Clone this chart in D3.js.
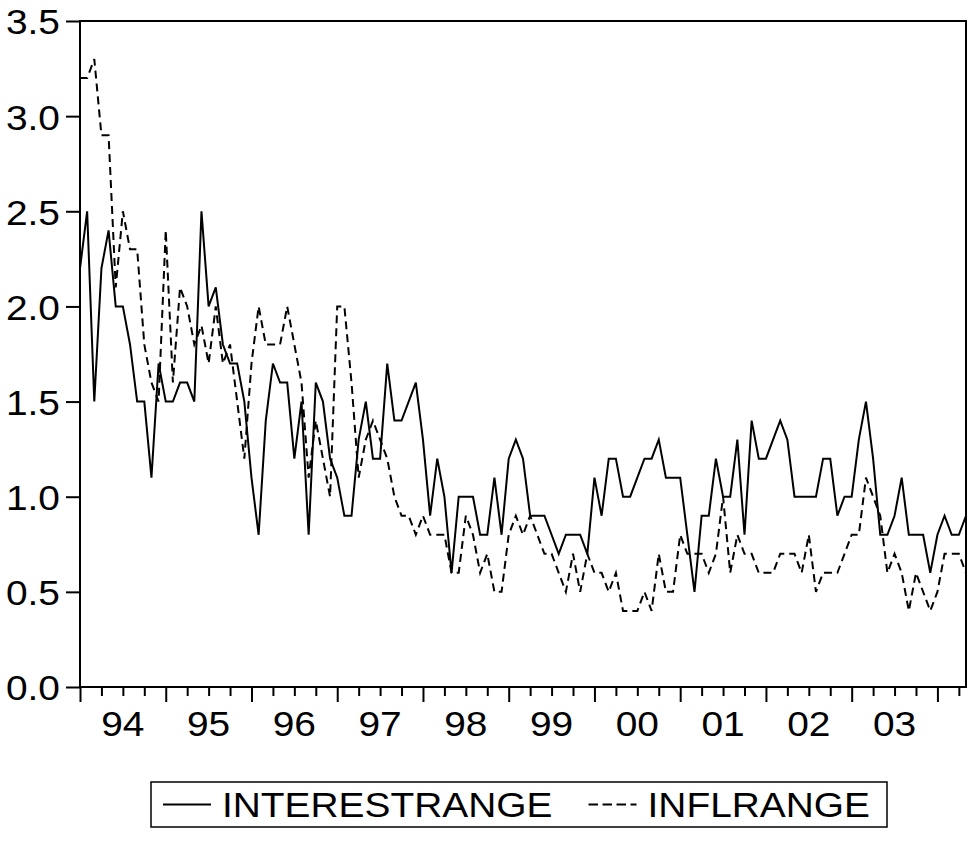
<!DOCTYPE html>
<html>
<head>
<meta charset="utf-8" />
<script src="https://cdn.jsdelivr.net/npm/d3@7/dist/d3.min.js"></script>
<style>
body { margin: 0; background: #fff; }
svg { display: block; }
text { font-family: "Liberation Sans", Arial, sans-serif; fill: #000; }
.axis path, .axis line { stroke: #000; stroke-width: 2px; }
.line { fill: none; stroke: #000; stroke-width: 2px; stroke-linejoin: miter; }
</style>
</head>
<body>
<svg id="chart" width="968" height="844"></svg>
<script>

// monthly observations, 1994M01 .. 2004M05
var yearLabels = ["94", "95", "96", "97", "98", "99", "00", "01", "02", "03"];
var yTicks = [0.0, 0.5, 1.0, 1.5, 2.0, 2.5, 3.0, 3.5];

var interestRange = [
  2.2, 2.5, 1.5, 2.2, 2.4, 2.0, 2.0, 1.8, 1.5, 1.5, 1.1, 1.7,
  1.5, 1.5, 1.6, 1.6, 1.5, 2.5, 2.0, 2.1, 1.8, 1.7, 1.7, 1.5,
  1.1, 0.8, 1.4, 1.7, 1.6, 1.6, 1.2, 1.5, 0.8, 1.6, 1.5, 1.2,
  1.1, 0.9, 0.9, 1.3, 1.5, 1.2, 1.2, 1.7, 1.4, 1.4, 1.5, 1.6,
  1.3, 0.9, 1.2, 1.0, 0.6, 1.0, 1.0, 1.0, 0.8, 0.8, 1.1, 0.8,
  1.2, 1.3, 1.2, 0.9, 0.9, 0.9, 0.8, 0.7, 0.8, 0.8, 0.8, 0.7,
  1.1, 0.9, 1.2, 1.2, 1.0, 1.0, 1.1, 1.2, 1.2, 1.3, 1.1, 1.1,
  1.1, 0.8, 0.5, 0.9, 0.9, 1.2, 1.0, 1.0, 1.3, 0.8, 1.4, 1.2,
  1.2, 1.3, 1.4, 1.3, 1.0, 1.0, 1.0, 1.0, 1.2, 1.2, 0.9, 1.0,
  1.0, 1.3, 1.5, 1.2, 0.8, 0.8, 0.9, 1.1, 0.8, 0.8, 0.8, 0.6,
  0.8, 0.9, 0.8, 0.8, 0.9
];

var inflRange = [
  3.2, 3.2, 3.3, 2.9, 2.9, 2.1, 2.5, 2.3, 2.3, 1.8, 1.6, 1.5,
  2.4, 1.6, 2.1, 2.0, 1.8, 1.9, 1.7, 2.0, 1.7, 1.8, 1.5, 1.2,
  1.7, 2.0, 1.8, 1.8, 1.8, 2.0, 1.8, 1.6, 1.1, 1.4, 1.2, 1.0,
  2.0, 2.0, 1.6, 1.1, 1.3, 1.4, 1.3, 1.2, 1.0, 0.9, 0.9, 0.8,
  0.9, 0.8, 0.8, 0.8, 0.6, 0.6, 0.9, 0.8, 0.6, 0.7, 0.5, 0.5,
  0.8, 0.9, 0.8, 0.9, 0.8, 0.7, 0.7, 0.6, 0.5, 0.7, 0.5, 0.7,
  0.6, 0.6, 0.5, 0.6, 0.4, 0.4, 0.4, 0.5, 0.4, 0.7, 0.5, 0.5,
  0.8, 0.7, 0.7, 0.7, 0.6, 0.7, 1.0, 0.6, 0.8, 0.7, 0.7, 0.6,
  0.6, 0.6, 0.7, 0.7, 0.7, 0.6, 0.8, 0.5, 0.6, 0.6, 0.6, 0.7,
  0.8, 0.8, 1.1, 1.0, 0.9, 0.6, 0.7, 0.6, 0.4, 0.6, 0.5, 0.4,
  0.5, 0.7, 0.7, 0.7, 0.6
];

var seriesNames = ["INTERESTRANGE", "INFLRANGE"];

var margin = {top: 21, right: 2, bottom: 157, left: 80};
var svgWidth = 968, svgHeight = 844;
var width = svgWidth - margin.left - margin.right;
var height = svgHeight - margin.top - margin.bottom;
var fontSize = 36;
var stretch = 1.08;   // the reference text is a little wider than Liberation Sans

var svg = d3.select("#chart");
svg.append("rect").attr("width", svgWidth).attr("height", svgHeight).attr("fill", "#fff");

var g = svg.append("g").attr("transform", "translate(" + margin.left + "," + margin.top + ")");

var n = interestRange.length;
var x = d3.scaleLinear().domain([0, n - 1]).range([0, width]);
var y = d3.scaleLinear().domain([0, 3.5]).range([height, 0]);

// frame
g.append("rect")
  .attr("width", width).attr("height", height)
  .attr("fill", "none").attr("stroke", "#000").attr("stroke-width", 2);

// y axis
var yAxis = g.append("g").attr("class", "axis")
  .call(d3.axisLeft(y).tickValues(yTicks).tickSize(14).tickPadding(6).tickFormat(d3.format(".1f")));
yAxis.select(".domain").remove();
yAxis.selectAll("text")
  .style("font-size", fontSize + "px")
  .attr("dy", "0.36em")
  .attr("x", 0)
  .attr("transform", "translate(-20,0) scale(" + stretch + ",1)");

// x axis: major ticks at year starts, minor at quarters
var majors = d3.range(0, n, 12);
var minors = d3.range(0, n, 3).filter(function(d) { return d % 12 != 0; });

var xMajor = g.append("g").attr("class", "axis")
  .attr("transform", "translate(0," + height + ")")
  .call(d3.axisBottom(x).tickValues(majors).tickSize(15).tickFormat(""));
xMajor.select(".domain").remove();

var xMinor = g.append("g").attr("class", "axis")
  .attr("transform", "translate(0," + height + ")")
  .call(d3.axisBottom(x).tickValues(minors).tickSize(9).tickFormat(""));
xMinor.select(".domain").remove();

g.selectAll(".yearLabel")
  .data(yearLabels)
  .enter().append("text")
  .attr("class", "yearLabel")
  .attr("transform", function(d, i) {
    return "translate(" + x(i * 12 + 6) + "," + (height + 49) + ") scale(" + stretch + ",1)";
  })
  .attr("text-anchor", "middle")
  .style("font-size", fontSize + "px")
  .text(function(d) { return d; });

// lines
var line = d3.line()
  .x(function(d, i) { return x(i); })
  .y(function(d) { return y(d); });

g.append("path").datum(interestRange).attr("class", "line").attr("d", line);
g.append("path").datum(inflRange).attr("class", "line")
  .attr("stroke-dasharray", "8,5").attr("d", line);

// legend
var legendBox = {x: 151, y: 782, w: 736, h: 45};
var lg = svg.append("g");
lg.append("rect")
  .attr("x", legendBox.x).attr("y", legendBox.y)
  .attr("width", legendBox.w).attr("height", legendBox.h)
  .attr("fill", "#fff").attr("stroke", "#000").attr("stroke-width", 1.5);

var cy = legendBox.y + legendBox.h / 2;
var sampleW = 48, gapAfterSample = 11, gapBetween = 36;
var items = lg.selectAll(".item").data(seriesNames).enter().append("g").attr("class", "item");
items.append("line")
  .attr("y1", cy).attr("y2", cy)
  .attr("stroke", "#000").attr("stroke-width", 2)
  .attr("stroke-dasharray", function(d, i) { return i == 1 ? "9.5,4.5" : null; });
items.append("text")
  .attr("dy", "0.36em")
  .style("font-size", fontSize + "px")
  .text(function(d) { return d; });

var widths = [];
items.select("text").each(function() { widths.push(this.getComputedTextLength() * stretch); });
var cursor = legendBox.x + 12;
items.each(function(d, i) {
  var it = d3.select(this);
  it.select("line").attr("x1", cursor).attr("x2", cursor + sampleW);
  it.select("text").attr("transform",
    "translate(" + (cursor + sampleW + gapAfterSample) + "," + cy + ") scale(" + stretch + ",1)");
  cursor += sampleW + gapAfterSample + widths[i] + gapBetween;
});

</script>
</body>
</html>
